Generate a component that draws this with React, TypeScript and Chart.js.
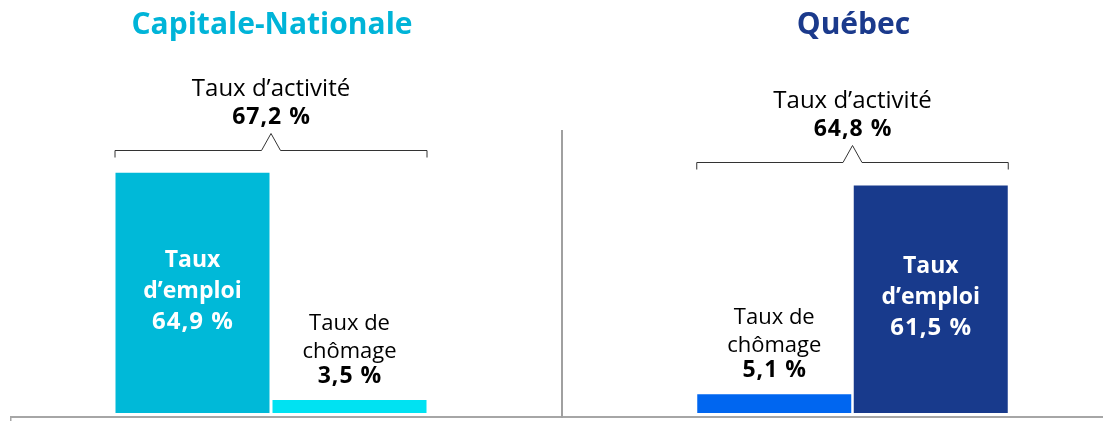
import React, { useEffect, useRef } from 'react';
import { Chart, registerables } from 'chart.js';

Chart.register(...registerables);

// ---- Data ----
const regionNames = ['Capitale-Nationale', 'Québec'];
const regionTitleColors = ['#00B4D8', '#1B3A8C'];
const activityLabel = 'Taux d’activité';
const activityRates = [67.2, 64.8];

const cnCategories = [['Taux', 'd’emploi'], ['Taux de', 'chômage']];
const cnValues = [64.9, 3.5];
const cnBarColors = ['#00B9D8', '#00E2F2'];

const qcCategories = [['Taux de', 'chômage'], ['Taux', 'd’emploi']];
const qcValues = [5.1, 61.5];
const qcBarColors = ['#0066F0', '#183A8C'];

const yMin = 0;
const yMax = 100;

const FONT = '"Open Sans", "DejaVu Sans", sans-serif';
const fmt = (v: number) => v.toFixed(1).replace('.', ',') + ' %';

const panelPlugin = {
  id: 'panel',
  afterDatasetsDraw(chart: any) {
    const p = chart.options.plugins.panel;
    if (!p) return;
    const ctx = chart.ctx as any;
    const area = chart.chartArea;
    const meta = chart.getDatasetMeta(0);
    const bars = meta.data as any[];
    const values = chart.data.datasets[0].data as number[];
    const labels = chart.data.labels as string[][];

    ctx.save();
    ctx.textAlign = 'center';
    ctx.textBaseline = 'alphabetic';

    const left = Math.min(...bars.map((b) => b.x - b.width / 2));
    const right = Math.max(...bars.map((b) => b.x + b.width / 2));
    const cx = (left + right) / 2;

    const plain = (t: string, x: number, y: number) => {
      ctx.letterSpacing = '0px';
      ctx.fillText(t, x, y);
    };
    const spaced = (t: string, x: number, y: number) => {
      ctx.letterSpacing = '1px';
      ctx.fillText(t, x + 0.5, y);
      ctx.letterSpacing = '0px';
    };

    // Title
    ctx.font = `bold 30px ${FONT}`;
    ctx.fillStyle = p.titleColor;
    plain(p.title, cx + 1, 34);

    // Bracket over bars
    const topY = chart.scales.y.getPixelForValue(Math.max(...values));
    const by = Math.round(topY - 23) + 0.5;
    ctx.strokeStyle = '#333333';
    ctx.lineWidth = 1;
    ctx.beginPath();
    ctx.moveTo(left - 0.5, by + 7);
    ctx.lineTo(left - 0.5, by);
    ctx.lineTo(cx - 9.5, by);
    ctx.lineTo(cx, by - 17);
    ctx.lineTo(cx + 9.5, by);
    ctx.lineTo(right + 0.5, by);
    ctx.lineTo(right + 0.5, by + 7);
    ctx.stroke();

    ctx.fillStyle = '#000000';
    ctx.font = `24px ${FONT}`;
    plain(activityLabel, cx, by - 55);
    ctx.font = `bold 23px ${FONT}`;
    spaced(fmt(p.activity), cx, by - 27);

    // Bar labels
    bars.forEach((bar, i) => {
      const lines = labels[i];
      const v = values[i];
      const h = bar.base - bar.y;
      if (h > 120) {
        ctx.fillStyle = '#FFFFFF';
        ctx.font = `bold 23px ${FONT}`;
        const mid = (bar.y + bar.base) / 2;
        const first = mid - 26;
        plain(lines[0], bar.x, first);
        plain(lines[1], bar.x, first + 31);
        ctx.font = `bold 24px ${FONT}`;
        spaced(fmt(v), bar.x, first + 62);
      } else {
        ctx.fillStyle = '#000000';
        const vb = bar.y - 17;
        ctx.font = `bold 23px ${FONT}`;
        spaced(fmt(v), bar.x, vb);
        ctx.font = `22px ${FONT}`;
        plain(lines[1], bar.x, vb - 25);
        plain(lines[0], bar.x, vb - 53);
      }
    });

    // Baseline and divider
    const baseY = area.bottom + 3;
    ctx.fillStyle = '#A6A6A6';
    ctx.fillRect(p.baseFrom, baseY, chart.width - p.baseFrom, 2);
    if (p.baseTick) ctx.fillRect(p.baseFrom, baseY, 1.5, 5);
    ctx.fillStyle = '#A0A0A0';
    ctx.fillRect(p.dividerX, 130, 1, baseY + 2 - 130);

    ctx.restore();
  },
};

type PanelProps = {
  left: number;
  width: number;
  labels: string[][];
  values: number[];
  colors: string[];
  title: string;
  titleColor: string;
  activity: number;
  padLeft: number;
  padRight: number;
  barPct: number;
  baseFrom: number;
  baseTick: boolean;
  dividerX: number;
};

function Panel(props: PanelProps) {
  const ref = useRef<HTMLCanvasElement>(null);
  useEffect(() => {
    if (!ref.current) return;
    const chart = new Chart(ref.current, {
      type: 'bar',
      data: {
        labels: props.labels,
        datasets: [
          {
            data: props.values,
            backgroundColor: props.colors,
            borderWidth: 0,
            barPercentage: props.barPct,
            categoryPercentage: 1,
          },
        ],
      },
      options: {
        responsive: false,
        animation: false,
        events: [],
        layout: { padding: { left: props.padLeft, right: props.padRight, top: 43, bottom: 8 } },
        scales: {
          x: { display: false },
          y: { display: false, min: yMin, max: yMax },
        },
        plugins: {
          legend: { display: false },
          tooltip: { enabled: false },
          panel: {
            title: props.title,
            titleColor: props.titleColor,
            activity: props.activity,
            baseFrom: props.baseFrom,
            baseTick: props.baseTick,
            dividerX: props.dividerX,
          },
        } as any,
      },
      plugins: [panelPlugin],
    });
    return () => chart.destroy();
  }, []);
  return (
    <div style={{ position: 'absolute', left: props.left, top: 0, width: props.width, height: 421 }}>
      <canvas ref={ref} width={props.width} height={421} style={{ display: 'block' }} />
    </div>
  );
}

export default function App() {
  return (
    <div style={{ position: 'absolute', left: 0, top: 0, width: 1103, height: 421, background: '#fff', overflow: 'hidden' }}>
      <Panel
        left={0}
        width={562}
        labels={cnCategories}
        values={cnValues}
        colors={cnBarColors}
        title={regionNames[0]}
        titleColor={regionTitleColors[0]}
        activity={activityRates[0]}
        padLeft={114}
        padRight={134}
        barPct={154 / 157}
        baseFrom={10}
        baseTick={true}
        dividerX={561}
      />
      <Panel
        left={562}
        width={541}
        labels={qcCategories}
        values={qcValues}
        colors={qcBarColors}
        title={regionNames[1]}
        titleColor={regionTitleColors[1]}
        activity={activityRates[1]}
        padLeft={134}
        padRight={94}
        barPct={154 / 156.5}
        baseFrom={0}
        baseTick={false}
        dividerX={0}
      />
    </div>
  );
}
